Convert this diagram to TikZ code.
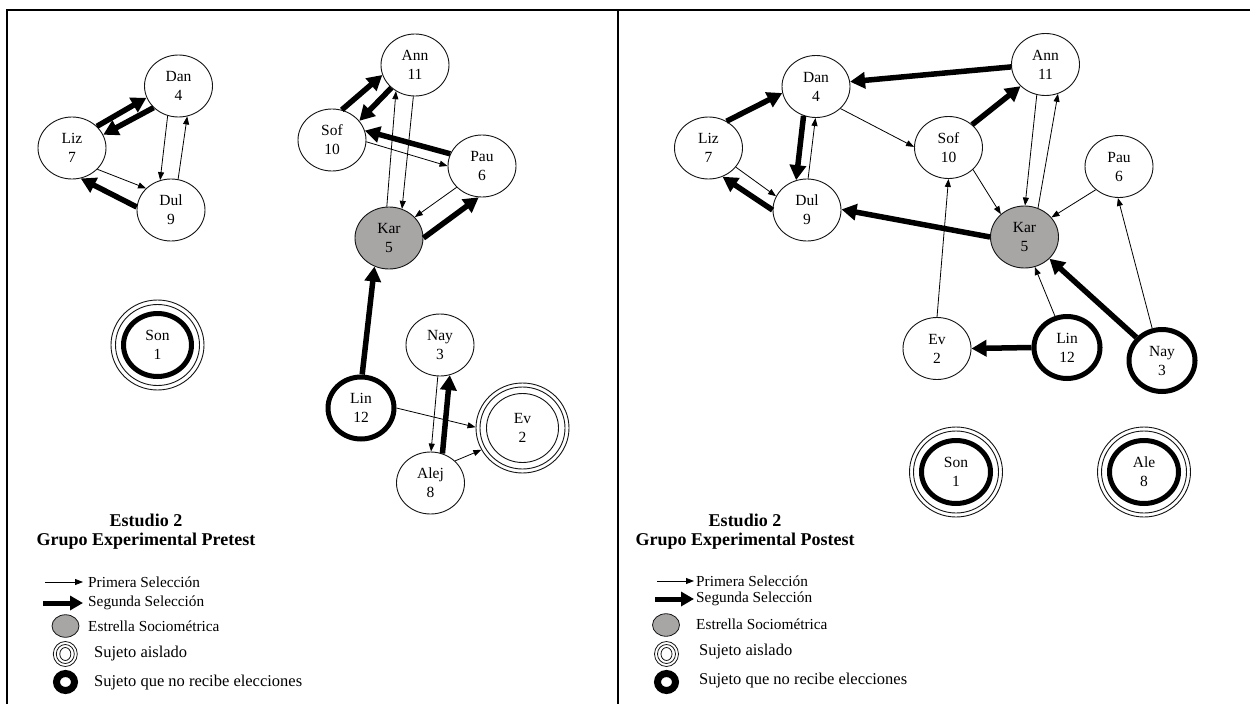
\documentclass[tikz,border=0pt]{standalone}
\usepackage{fontspec}
\setmainfont{Liberation Serif}
\usetikzlibrary{arrows.meta,shapes.geometric}
\definecolor{stargray}{RGB}{168,165,165}
\definecolor{edgeblk}{RGB}{20,20,20}
\tikzset{
  pn/.style={ellipse, draw=edgeblk, line width=0.9pt, fill=white, minimum width=68pt, minimum height=62pt, inner sep=0pt, align=center, font=\fontsize{15.5}{19}\selectfont},
  starnode/.style={pn, fill=stargray},
  noel/.style={pn, line width=5pt, draw=black, minimum width=66pt, minimum height=62pt},
  isol/.style={pn, minimum width=93pt, minimum height=90pt},
  ring/.style={draw=edgeblk, line width=0.9pt},
  thickring/.style={draw=black, line width=5pt},
  first/.style={draw=black, line width=0.8pt, -{Triangle[length=8pt,width=6pt]}},
  second/.style={draw=black, line width=5.5pt, -{Triangle[length=15pt,width=16pt]}},
  lsecond/.style={draw=black, line width=5pt, -{Triangle[length=13pt,width=14pt]}},
  ttl/.style={align=center, font=\fontsize{18}{19.5}\selectfont\bfseries, inner sep=0pt},
  lgs/.style={anchor=west, font=\fontsize{15.3}{18}\selectfont, inner sep=0pt},
  lgb/.style={anchor=west, font=\fontsize{16.5}{19}\selectfont, inner sep=0pt},
  lgstar/.style={ellipse, draw=edgeblk, line width=0.8pt, fill=stargray, minimum width=27pt, minimum height=22.5pt, inner sep=0pt},
  lgiso/.style={ellipse, draw=edgeblk, line width=0.8pt, minimum width=24pt, minimum height=25pt, inner sep=0pt},
  lgring/.style={ellipse, draw=black, line width=7pt, minimum width=18pt, minimum height=17pt, inner sep=0pt},
}
\begin{document}
\begin{tikzpicture}[x=1pt,y=-1pt]
\useasboundingbox (0,0) rectangle (1250,704);
% frame
\draw[line width=2pt] (7,704) -- (7,9.5) -- (1250,9.5);
\draw[line width=1.2pt] (618,9.5) -- (618,704);

% ---------- left panel nodes ----------
\node[pn] (LDan) at (178.5,86) {Dan\\4};
\node[pn] (LLiz) at (72,148) {Liz\\7};
\node[pn] (LDul) at (171,210) {Dul\\9};
\node[pn] (LAnn) at (415,65) {Ann\\11};
\node[pn] (LSof) at (332,140) {Sof\\10};
\node[pn] (LPau) at (482,166) {Pau\\6};
\node[starnode] (LKar) at (389,238) {Kar\\5};
\node[isol] (LSon) at (157.5,345) {Son\\1};
\draw[ring] (LSon.center) ellipse [x radius=42pt, y radius=40.5pt];
\draw[thickring] (LSon.center) ellipse [x radius=34pt, y radius=31.5pt];
\node[pn] (LNay) at (440,345) {Nay\\3};
\node[noel] (LLin) at (361,408) {Lin\\12};
\node[isol] (LEv) at (522.5,428) {Ev\\2};
\draw[ring] (LEv.center) ellipse [x radius=42.5pt, y radius=41pt];
\draw[ring] (LEv.center) ellipse [x radius=36pt, y radius=34.5pt];
\node[pn] (LAlej) at (430.5,483) {Alej\\8};

% ---------- left panel edges ----------
\draw[second] (LLiz.41) -- (LDan.200);
\draw[second] (LDan.221) -- (LLiz.23);
\draw[first] (LDan.250) -- (LDul.110);
\draw[first] (LDul.77) -- (LDan.286);
\draw[first] (LLiz.320) -- (LDul.139);
\draw[second] (LDul.175) -- (LLiz.286);
\draw[second] (LSof.72) -- (LAnn.197);
\draw[second] (LAnn.224) -- (LSof.35);
\draw[second] (LPau.159) -- (LSof.16);
\draw[first] (LSof.357) -- (LPau.180);
\draw[first] (LKar.94) -- (LAnn.234);
\draw[first] (LAnn.267) -- (LKar.66);
\draw[first] (LPau.220) -- (LKar.39);
\draw[second] (LKar.0) -- (LPau.264);
\draw[second] (LLin.88) -- (LKar.243);
\draw[first] (LNay.266) -- (LAlej.89);
\draw[second] (LAlej.68) -- (LNay.288);
\draw[first] (LLin.0) -- (LEv.179);
\draw[first] (LAlej.42) -- (LEv.208);

% ---------- right panel nodes ----------
\node[pn] (RDan) at (816,86.5) {Dan\\4};
\node[pn] (RLiz) at (708.5,148) {Liz\\7};
\node[pn] (RDul) at (807,210) {Dul\\9};
\node[pn] (RSof) at (948.5,147.5) {Sof\\10};
\node[pn] (RAnn) at (1045.5,64.5) {Ann\\11};
\node[pn] (RPau) at (1119,166.5) {Pau\\6};
\node[starnode] (RKar) at (1024.5,237) {Kar\\5};
\node[pn] (REv) at (937,348.5) {Ev\\2};
\node[noel] (RLin) at (1067,347.5) {Lin\\12};
\node[noel] (RNay) at (1162,360.5) {Nay\\3};
\node[isol] (RSon) at (956,472) {Son\\1};
\draw[ring] (RSon.center) ellipse [x radius=42.5pt, y radius=41pt];
\draw[thickring] (RSon.center) ellipse [x radius=34.5pt, y radius=31.5pt];
\node[isol] (RAle) at (1144,472) {Ale\\8};
\draw[ring] (RAle.center) ellipse [x radius=42.5pt, y radius=41pt];
\draw[thickring] (RAle.center) ellipse [x radius=34.5pt, y radius=31.5pt];

% ---------- right panel edges ----------
\draw[second] (RAnn.184) -- (RDan.8);
\draw[second] (RLiz.56) -- (RDan.191);
\draw[second] (RDan.247) -- (RDul.110);
\draw[first] (RDul.88) -- (RDan.269);
\draw[first] (RLiz.325) -- (RDul.156);
\draw[second] (RDul.180) -- (RLiz.296);
\draw[first] (RDan.318) -- (RSof.179);
\draw[second] (RKar.180) -- (RDul.1);
\draw[second] (RSof.44) -- (RAnn.221);
\draw[first] (RAnn.254) -- (RKar.89);
\draw[first] (RKar.65) -- (RAnn.293);
\draw[first] (RSof.318) -- (RKar.136);
\draw[first] (RPau.225) -- (RKar.36);
\draw[first] (REv.90) -- (RSof.270);
\draw[first] (RLin.111) -- (RKar.289);
\draw[second] (RNay.138) -- (RKar.319);
\draw[second] (RLin.180) -- (REv.0);
\draw[first] (RNay.107) -- (RPau.268);

% ---------- titles ----------
\node[ttl] (LTitle) at (146,531.5) {Estudio 2\\Grupo Experimental Pretest};
\node[ttl] (RTitle) at (745,531.5) {Estudio 2\\Grupo Experimental Postest};

% ---------- left legend ----------
\coordinate (LA1) at (45,582); \coordinate (LB1) at (83,582);
\draw[first] (LA1) -- (LB1);
\coordinate (LA2) at (43,603); \coordinate (LB2) at (83,603);
\draw[lsecond] (LA2) -- (LB2);
\node[lgstar] (LG3) at (65.5,626) {};
\node[lgiso] (LG4) at (65.3,654) {};
\draw[ring, line width=0.8pt] (LG4.center) ellipse [x radius=9pt, y radius=9.5pt];
\draw[ring, line width=0.8pt] (LG4.center) ellipse [x radius=5.5pt, y radius=6.5pt];
\node[lgring] (LG5) at (65.5,682) {};
\node[lgs] (LT1) at (88,582) {Primera Selección};
\node[lgs] (LT2) at (88,603) {Segunda Selección};
\node[lgs] (LT3) at (88,626) {Estrella Sociométrica};
\node[lgb] (LT4) at (94,654) {Sujeto aislado};
\node[lgb] (LT5) at (94,683) {Sujeto que no recibe elecciones};

% ---------- right legend ----------
\coordinate (RA1) at (657,581); \coordinate (RB1) at (694,581);
\draw[first] (RA1) -- (RB1);
\coordinate (RA2) at (655,599); \coordinate (RB2) at (694,599);
\draw[lsecond] (RA2) -- (RB2);
\node[lgstar] (RG3) at (666,625) {};
\node[lgiso] (RG4) at (666.5,654) {};
\draw[ring, line width=0.8pt] (RG4.center) ellipse [x radius=9pt, y radius=9.5pt];
\draw[ring, line width=0.8pt] (RG4.center) ellipse [x radius=5.5pt, y radius=6.5pt];
\node[lgring] (RG5) at (666.5,682) {};
\node[lgs] (RT1) at (696,581) {Primera Selección};
\node[lgs] (RT2) at (696,599) {Segunda Selección};
\node[lgs] (RT3) at (696,624) {Estrella Sociométrica};
\node[lgb] (RT4) at (699,652) {Sujeto aislado};
\node[lgb] (RT5) at (699,681) {Sujeto que no recibe elecciones};
\end{tikzpicture}
\end{document}
